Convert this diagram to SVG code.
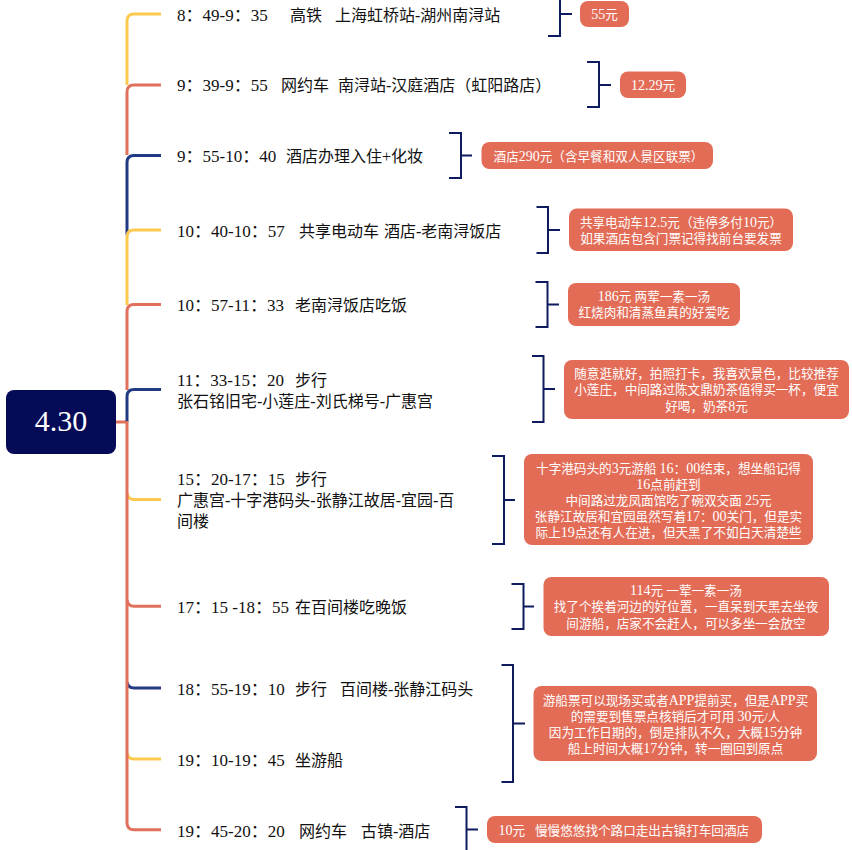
<svg xmlns="http://www.w3.org/2000/svg" width="852" height="850" viewBox="0 0 852 850">
<style>
text{font-family:"Liberation Serif","Noto Sans CJK SC",serif}
.t{font-size:16px;fill:#111}
.d{font-size:17px}
.n{font-size:12.6px;fill:#fff;text-anchor:middle}
.s{text-anchor:start}
.l{font-size:14px}
.note{fill:#e36c57}
.root{fill:#060b58}
.rt{font-size:30px;fill:#fff;text-anchor:middle}
.c{fill:none;stroke-width:3;stroke-linecap:butt}
.y{stroke:#fdc94f}.o{stroke:#e1715d}.b{stroke:#223a84}
.br{fill:none;stroke:#0f1b5f;stroke-width:2}
</style>
<rect width="852" height="850" fill="#fff"/>
<g id="connectors">
<path class="c o" d="M116 422H127"/>
<path class="c y" d="M161 14H134Q127 14 127 21V85"/>
<path class="c o" d="M161 85H134Q127 85 127 92V155"/>
<path class="c b" d="M161 155.500H134Q127 155.500 127 162.500V235"/>
<path class="c y" d="M161 230H134Q127 230 127 237V305"/>
<path class="c o" d="M161 304.500H134Q127 304.500 127 311.500V390"/>
<path class="c b" d="M161 389.500H134Q127 389.500 127 396.500V422"/>
<path class="c y" d="M161 499.500H134Q128 499.500 127 493"/>
<path class="c o" d="M161 606.300H134Q128 606.300 127 600"/>
<path class="c b" d="M161 688H134Q128 688 127 682"/>
<path class="c y" d="M161 759H134Q128 759 127 753"/>
<path class="c o" d="M127 421V822.700Q127 829.700 134 829.700H161"/>
<path class="br" d="M548 36H560V-8H548M560 14H572"/>
<path class="br" d="M587 62H599V107H587M599 85H611"/>
<path class="br" d="M449 133H461V178H449M461 155.500H472"/>
<path class="br" d="M536.500 207H548V253H536.500M548 230H560"/>
<path class="br" d="M535.500 282H547.500V327H535.500M547.500 304.500H559"/>
<path class="br" d="M532 356H543.500V422H532M543.500 389H555"/>
<path class="br" d="M492 456H504V544H492M504 500H515"/>
<path class="br" d="M511.500 584H523.500V629H511.500M523.500 606.500H534"/>
<path class="br" d="M501.500 665H513V782H501.500M513 723.500H525"/>
<path class="br" d="M455 807H466.500V852H455M466.500 829.500H478"/>
</g>
<g id="root"><rect class="root" x="6" y="390" width="110" height="64" rx="8"/><text class="rt" x="61" y="431">4.30</text></g>
<g id="item1"><text class="t" y="21"><tspan class="d" x="177">8：49-9：35</tspan><tspan x="290">高铁</tspan><tspan x="335">上海虹桥站-湖州南浔站</tspan></text></g>
<g id="item2"><text class="t" y="91"><tspan class="d" x="177">9：39-9：55</tspan><tspan x="281">网约车</tspan><tspan x="338">南浔站-汉庭酒店（虹阳路店）</tspan></text></g>
<g id="item3"><text class="t" y="162"><tspan class="d" x="177">9：55-10：40</tspan><tspan x="286">酒店办理入住+化妆</tspan></text></g>
<g id="item4"><text class="t" y="237"><tspan class="d" x="177">10：40-10：57</tspan><tspan x="299">共享电动车</tspan><tspan x="384">酒店-老南浔饭店</tspan></text></g>
<g id="item5"><text class="t" y="311"><tspan class="d" x="177">10：57-11：33</tspan><tspan x="295">老南浔饭店吃饭</tspan></text></g>
<g id="item6"><text class="t" y="386"><tspan class="d" x="177">11：33-15：20</tspan><tspan x="295">步行</tspan></text><text class="t" x="177" y="407">张石铭旧宅-小莲庄-刘氏梯号-广惠宫</text></g>
<g id="item7"><text class="t" y="485"><tspan class="d" x="177">15：20-17：15</tspan><tspan x="295">步行</tspan></text><text class="t" x="177" y="506">广惠宫-十字港码头-张静江故居-宜园-百</text><text class="t" x="177" y="527">间楼</text></g>
<g id="item8"><text class="t" y="613"><tspan class="d" x="177">17：15 -18：55</tspan><tspan x="295">在百间楼吃晚饭</tspan></text></g>
<g id="item9"><text class="t" y="695"><tspan class="d" x="177">18：55-19：10</tspan><tspan x="295">步行</tspan><tspan x="340">百间楼-张静江码头</tspan></text></g>
<g id="item10"><text class="t" y="766"><tspan class="d" x="177">19：10-19：45</tspan><tspan x="295">坐游船</tspan></text></g>
<g id="item11"><text class="t" y="837"><tspan class="d" x="177">19：45-20：20</tspan><tspan x="299">网约车</tspan><tspan x="361">古镇-酒店</tspan></text></g>
<g id="note1"><rect class="note" x="580" y="1" width="49" height="26" rx="8"/><text class="n" x="604.500" y="19"><tspan class="l">55</tspan>元</text></g>
<g id="note2"><rect class="note" x="620" y="71.500" width="66" height="26.500" rx="8"/><text class="n" x="653" y="90"><tspan class="l">12.29</tspan>元</text></g>
<g id="note3"><rect class="note" x="481.500" y="142" width="231.500" height="27" rx="8"/><text class="n" x="598.500" y="160.500">酒店<tspan class="l">290</tspan>元（含早餐和双人景区联票）</text></g>
<g id="note4"><rect class="note" x="569" y="208.500" width="224" height="42.500" rx="8"/><text class="n" x="681" y="226.500">共享电动车<tspan class="l">12.5</tspan>元（违停多付<tspan class="l">10</tspan>元）</text><text class="n" x="681" y="242.500">如果酒店包含门票记得找前台要发票</text></g>
<g id="note5"><rect class="note" x="568" y="283" width="172" height="43" rx="8"/><text class="n" x="654" y="301"><tspan class="l">186</tspan>元 两荤一素一汤</text><text class="n" x="654" y="317">红烧肉和清蒸鱼真的好爱吃</text></g>
<g id="note6"><rect class="note" x="564" y="360" width="285" height="59" rx="8"/><text class="n" x="706.500" y="377.500">随意逛就好，拍照打卡，我喜欢景色，比较推荐</text><text class="n" x="706.500" y="394">小莲庄，中间路过陈文鼎奶茶值得买一杯，便宜</text><text class="n" x="706.500" y="410.500">好喝，奶茶<tspan class="l">8</tspan>元</text></g>
<g id="note7"><rect class="note" x="524" y="454" width="289" height="91" rx="8"/><text class="n" x="668.500" y="472.500">十字港码头的<tspan class="l">3</tspan>元游船 <tspan class="l">16</tspan>：<tspan class="l">00</tspan>结束，想坐船记得</text><text class="n" x="668.500" y="488.500"><tspan class="l">16</tspan>点前赶到</text><text class="n" x="668.500" y="504.500">中间路过龙凤面馆吃了碗双交面 <tspan class="l">25</tspan>元</text><text class="n" x="668.500" y="520.500">张静江故居和宜园虽然写着<tspan class="l">17</tspan>：<tspan class="l">00</tspan>关门，但是实</text><text class="n" x="668.500" y="537">际上<tspan class="l">19</tspan>点还有人在进，但天黑了不如白天清楚些</text></g>
<g id="note8"><rect class="note" x="543.500" y="577" width="285.500" height="59" rx="8"/><text class="n" x="686" y="595"><tspan class="l">114</tspan>元 一荤一素一汤</text><text class="n" x="686" y="611">找了个挨着河边的好位置，一直呆到天黑去坐夜</text><text class="n" x="686" y="627.500">间游船，店家不会赶人，可以多坐一会放空</text></g>
<g id="note9"><rect class="note" x="533.500" y="686" width="283.500" height="75" rx="8"/><text class="n" x="675.500" y="704.500">游船票可以现场买或者<tspan class="l">APP</tspan>提前买，但是<tspan class="l">APP</tspan>买</text><text class="n" x="675.500" y="721">的需要到售票点核销后才可用 <tspan class="l">30</tspan>元/人</text><text class="n" x="675.500" y="737">因为工作日期的，倒是排队不久，大概<tspan class="l">15</tspan>分钟</text><text class="n" x="675.500" y="753">船上时间大概<tspan class="l">17</tspan>分钟，转一圈回到原点</text></g>
<g id="note10"><rect class="note" x="487" y="816" width="275" height="27" rx="8"/><text class="n s" x="498.500" y="834.500"><tspan class="l">10</tspan>元<tspan x="535">慢慢悠悠找个路口走出古镇打车回酒店</tspan></text></g>
</svg>
